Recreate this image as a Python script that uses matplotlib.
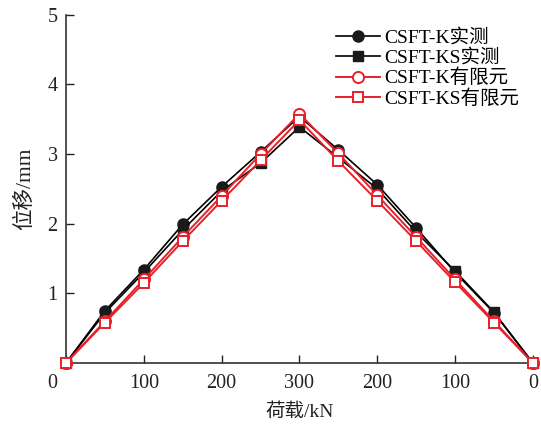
import matplotlib.pyplot as plt

plt.rcParams['font.family'] = ['Liberation Serif', 'Noto Sans CJK SC']

# load sequence: 0 -> 300 kN -> 0, plotted on a continuous step axis
x = [0, 50, 100, 150, 200, 250, 300, 350, 400, 450, 500, 550, 600]
xticks = [0, 100, 200, 300, 400, 500, 600]
xticklabels = ['0', '100', '200', '300', '200', '100', '0']

k_test = [0, 0.75, 1.34, 1.99, 2.53, 3.03, 3.54, 3.06, 2.56, 1.94, 1.30, 0.72, 0]
ks_test = [0, 0.72, 1.30, 1.91, 2.47, 2.87, 3.39, 2.95, 2.50, 1.88, 1.32, 0.73, 0]
k_fem = [0, 0.60, 1.20, 1.81, 2.40, 3.00, 3.58, 3.01, 2.41, 1.81, 1.20, 0.60, 0]
ks_fem = [0, 0.58, 1.15, 1.75, 2.33, 2.91, 3.49, 2.90, 2.33, 1.75, 1.16, 0.58, 0]

fig = plt.figure(figsize=(5.41, 4.25), dpi=100)
ax = fig.add_axes([0.122, 0.146, 0.863, 0.819])

ax.plot(x, k_test, '-', color='black', lw=1.2, marker='o', ms=8,
        mfc='#1a1a1a', mec='#1a1a1a', label='CSFT-K实测', clip_on=False, zorder=3)
ax.plot(x, ks_test, '-', color='black', lw=1.2, marker='s', ms=7,
        mfc='#1a1a1a', mec='#1a1a1a', label='CSFT-KS实测', clip_on=False, zorder=3)
ax.plot(x, k_fem, '-', color='#e8202a', lw=1.4, marker='o', ms=8,
        mfc='white', mec='#e8202a', mew=1.4, label='CSFT-K有限元', clip_on=False, zorder=4)
ax.plot(x, ks_fem, '-', color='#e8202a', lw=1.4, marker='s', ms=7,
        mfc='white', mec='#e8202a', mew=1.4, label='CSFT-KS有限元', clip_on=False, zorder=4)

ax.set_xlim(0, 600)
ax.set_ylim(0, 5)
ax.set_xticks(xticks)
# first "0" sits left of the origin in the original, drawn separately below
ax.set_xticklabels([''] + xticklabels[1:])
ax.set_yticks([1, 2, 3, 4, 5])
ax.annotate(xticklabels[0], xy=(0, 0), xycoords='data', xytext=(-10, -8),
            textcoords='offset points', ha='center', va='top', fontsize=14.5,
            color='#222222', annotation_clip=False)

ax.spines['top'].set_visible(False)
ax.spines['right'].set_visible(False)
for s in ['left', 'bottom']:
    ax.spines[s].set_color('#333333')
    ax.spines[s].set_linewidth(1.2)
ax.tick_params(direction='in', length=6, width=1.0, labelsize=14.5, colors='#222222', pad=6)
ax.tick_params(axis='x', pad=8)

ax.set_xlabel('荷载/kN', fontsize=14, color='#222222', labelpad=7)
ax.set_ylabel('位移/mm', fontsize=15.5, color='#222222', labelpad=9)

ax.legend(loc='upper right', bbox_to_anchor=(1.0, 1.0), frameon=False, fontsize=14,
          handlelength=2.3, handletextpad=0.2, labelspacing=0.12, borderaxespad=0.3)

plt.savefig('out.png', dpi=100)
